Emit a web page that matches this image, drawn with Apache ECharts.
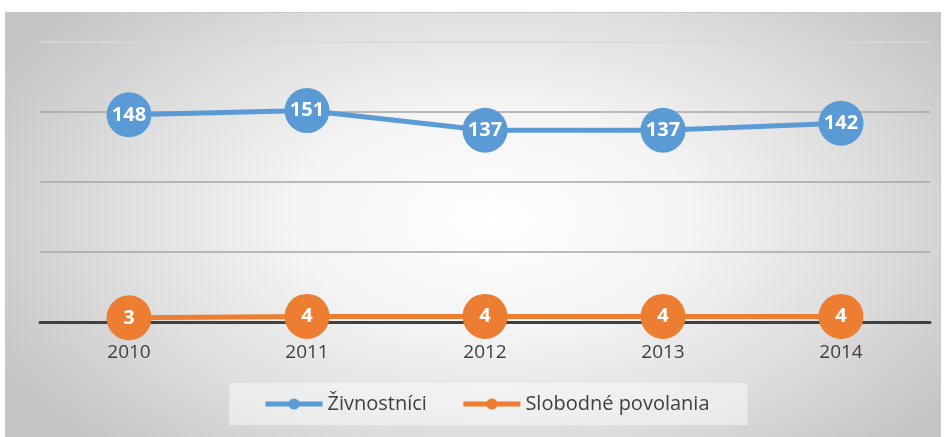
<!DOCTYPE html>
<html>
<head>
<meta charset="utf-8">
<script src="https://cdn.jsdelivr.net/npm/echarts@6/dist/echarts.min.js"></script>
<style>
  html, body { margin: 0; padding: 0; background: #fff; }
  #bg {
    position: absolute; left: 5px; top: 12px; width: 934px; height: 430px;
    border: 1px solid #c8c8c8;
    background: radial-gradient(ellipse 60% 75% at 52% 48%, #ffffff 0%, #f4f4f4 35%, #dcdcdc 70%, #c4c4c4 100%);
  }
  #chart { position: absolute; left: 0; top: 0; width: 944px; height: 437px; }
</style>
</head>
<body>
<div id="bg"></div>
<div id="chart"></div>
<script>
const years = ["2010", "2011", "2012", "2013", "2014"];
const zivnostnici = [148, 151, 137, 137, 142];
const slobodne = [3, 4, 4, 4, 4];

const chart = echarts.init(document.getElementById("chart"));

const labelStyle = {
  show: true,
  position: "inside",
  color: "#fff",
  fontWeight: "bold",
  fontSize: 20,
  fontFamily: "Open Sans"
};

chart.setOption({
  backgroundColor: "transparent",
  animation: false,
  textStyle: { fontFamily: "Open Sans" },
  grid: { left: 40, right: 14, top: 42, bottom: 115 },
  legend: {
    left: 229,
    top: 383,
    padding: [11, 38, 11, 34],
    backgroundColor: "rgba(255,255,255,0.45)",
    itemWidth: 57,
    itemHeight: 14,
    itemGap: 34,
    lineStyle: { width: 5 },
    textStyle: { fontSize: 20, color: "#404040", fontFamily: "Open Sans" },
    data: ["Živnostníci", "Slobodné povolania"]
  },
  xAxis: {
    type: "category",
    data: years,
    axisLine: { lineStyle: { color: "#404040", width: 3 } },
    axisTick: { show: false },
    axisLabel: { fontSize: 19, color: "#404040", margin: 21 }
  },
  yAxis: {
    type: "value",
    min: 0,
    max: 200,
    interval: 50,
    axisLabel: { show: false },
    axisLine: { show: false },
    axisTick: { show: false },
    splitLine: {
      lineStyle: { color: ["#a6a6a6", "#a6a6a6", "#a6a6a6", "#a6a6a6", "#d9d9d9"], width: 1.5 }
    }
  },
  series: [
    {
      name: "Živnostníci",
      type: "line",
      data: zivnostnici,
      color: "#5B9BD5",
      lineStyle: { width: 5 },
      symbol: "circle",
      symbolSize: 45,
      label: labelStyle
    },
    {
      name: "Slobodné povolania",
      type: "line",
      data: slobodne,
      color: "#ED7D31",
      lineStyle: { width: 5 },
      symbol: "circle",
      symbolSize: 45,
      label: labelStyle
    }
  ]
});
</script>
</body>
</html>
